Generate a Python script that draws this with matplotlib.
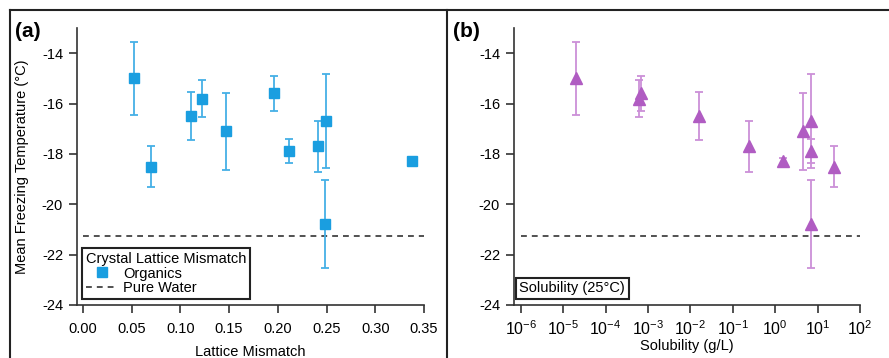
import matplotlib
matplotlib.use("Agg")
import matplotlib.pyplot as plt
from matplotlib.lines import Line2D
from matplotlib.ticker import LogLocator, NullLocator, MultipleLocator

plt.rcParams["font.family"] = ["Liberation Sans", "DejaVu Sans"]
plt.rcParams["mathtext.fontset"] = "custom"
plt.rcParams["mathtext.rm"] = "Liberation Sans"
plt.rcParams["axes.unicode_minus"] = False

# one entry per compound
mismatch = [0.052, 0.070, 0.111, 0.122, 0.147, 0.196, 0.212, 0.241, 0.2495, 0.248, 0.338]
solubility = [2.0e-5, 24, 0.016, 6.0e-4, 4.6, 6.8e-4, 7.0, 0.24, 7.0, 7.0, 1.5]
temp = [-15.0, -18.5, -16.5, -15.8, -17.1, -15.6, -17.9, -17.7, -16.7, -20.8, -18.3]
temp_err = [1.44, 0.82, 0.94, 0.72, 1.53, 0.71, 0.48, 1.01, 1.87, 1.75, 0.12]
pure_water = -21.26

blue = "#1a9ee0"
blue_err = "#45b0e6"
purple = "#b05cc2"
purple_err = "#cc90d8"
dash_col = "#333333"
fs = 10.5

W, H = 889, 358
fig = plt.figure(figsize=(W / 100, H / 100), dpi=100)


def px_axes(left, top, right, bottom):
    return fig.add_axes([left / W, 1 - bottom / H, (right - left) / W, (bottom - top) / H])


def style(ax):
    for s in ("top", "right"):
        ax.spines[s].set_visible(False)
    for s in ("left", "bottom"):
        ax.spines[s].set_linewidth(1.2)
        ax.spines[s].set_color("#333333")
    ax.tick_params(direction="out", length=6, width=1.2, color="#333333",
                   labelsize=fs, pad=4)
    ax.tick_params(axis="x", pad=6)
    ax.set_ylim(-24, -13)
    ax.yaxis.set_major_locator(MultipleLocator(2))
    ax.set_yticks([-24, -22, -20, -18, -16, -14])


# panel (a)
ax1 = px_axes(77, 28, 424, 305)
style(ax1)
ax1.set_xlim(-0.006, 0.35)
ax1.set_xticks([0.0, 0.05, 0.10, 0.15, 0.20, 0.25, 0.30, 0.35])
ax1.set_xticklabels(["0.00", "0.05", "0.10", "0.15", "0.20", "0.25", "0.30", "0.35"])
ax1.errorbar(mismatch, temp, yerr=temp_err, fmt="s", ms=6.5, color=blue,
             ecolor=blue_err, elinewidth=1.3, capsize=3, capthick=1.3, zorder=3)
ax1.plot([0, 0.35], [pure_water, pure_water], ls=(0, (3.5, 3)), lw=1.2, color=dash_col)
ax1.set_ylabel("Mean Freezing Temperature (°C)", fontsize=fs, labelpad=9)
ax1.set_xlabel("Lattice Mismatch", fontsize=fs, labelpad=7)
handles = [
    Line2D([], [], marker="s", ls="none", ms=6.5, color=blue),
    Line2D([], [], ls=(0, (3.5, 3)), lw=1.2, color=dash_col),
]
leg = ax1.legend(handles, ["Organics", "Pure Water"], title="Crystal Lattice Mismatch",
                 loc="lower left", bbox_to_anchor=(0.014, 0.022), fontsize=fs,
                 title_fontsize=fs, fancybox=False, framealpha=1, edgecolor="#222222",
                 borderpad=0.25, handlelength=2.2, handletextpad=0.4, labelspacing=0.05,
                 borderaxespad=0)
leg._legend_box.align = "left"
leg.get_frame().set_linewidth(1.5)
ax1.text(-0.179, 0.989, "(a)", transform=ax1.transAxes, fontsize=15, fontweight="bold",
         va="center", ha="left")

# panel (b)
ax2 = px_axes(514, 28, 860, 305)
style(ax2)
ax2.set_xscale("log")
ax2.set_xlim(10 ** -6.158, 1e2)
ax2.xaxis.set_major_locator(LogLocator(base=10, numticks=20))
ax2.xaxis.set_minor_locator(NullLocator())
ax2.set_xticks([10.0 ** k for k in range(-6, 3)])
ax2.tick_params(axis="x", labelsize=11.5, pad=4)
ax2.errorbar(solubility, temp, yerr=temp_err, fmt="^", ms=8, color=purple,
             ecolor=purple_err, elinewidth=1.3, capsize=3, capthick=1.3, zorder=3)
ax2.plot([1e-6, 1e2], [pure_water, pure_water], ls=(0, (3.5, 3)), lw=1.2, color=dash_col)
ax2.set_xlabel("Solubility (g/L)", fontsize=fs, labelpad=1)
ax2.text(0.015, 0.035, "Solubility (25°C)", transform=ax2.transAxes, fontsize=fs,
         va="bottom", ha="left",
         bbox=dict(boxstyle="square,pad=0.25", fc="white", ec="#222222", lw=1.5))
ax2.text(-0.176, 0.989, "(b)", transform=ax2.transAxes, fontsize=15, fontweight="bold",
         va="center", ha="left")

# outer frame lines
frame = dict(color="#222222", lw=1.5, transform=fig.transFigure)
fig.add_artist(Line2D([10 / W, 1], [1 - 10 / H, 1 - 10 / H], **frame))
fig.add_artist(Line2D([10 / W, 10 / W], [0, 1 - 10 / H], **frame))
fig.add_artist(Line2D([447 / W, 447 / W], [0, 1 - 10 / H], **frame))

fig.savefig("out.png", dpi=100)
